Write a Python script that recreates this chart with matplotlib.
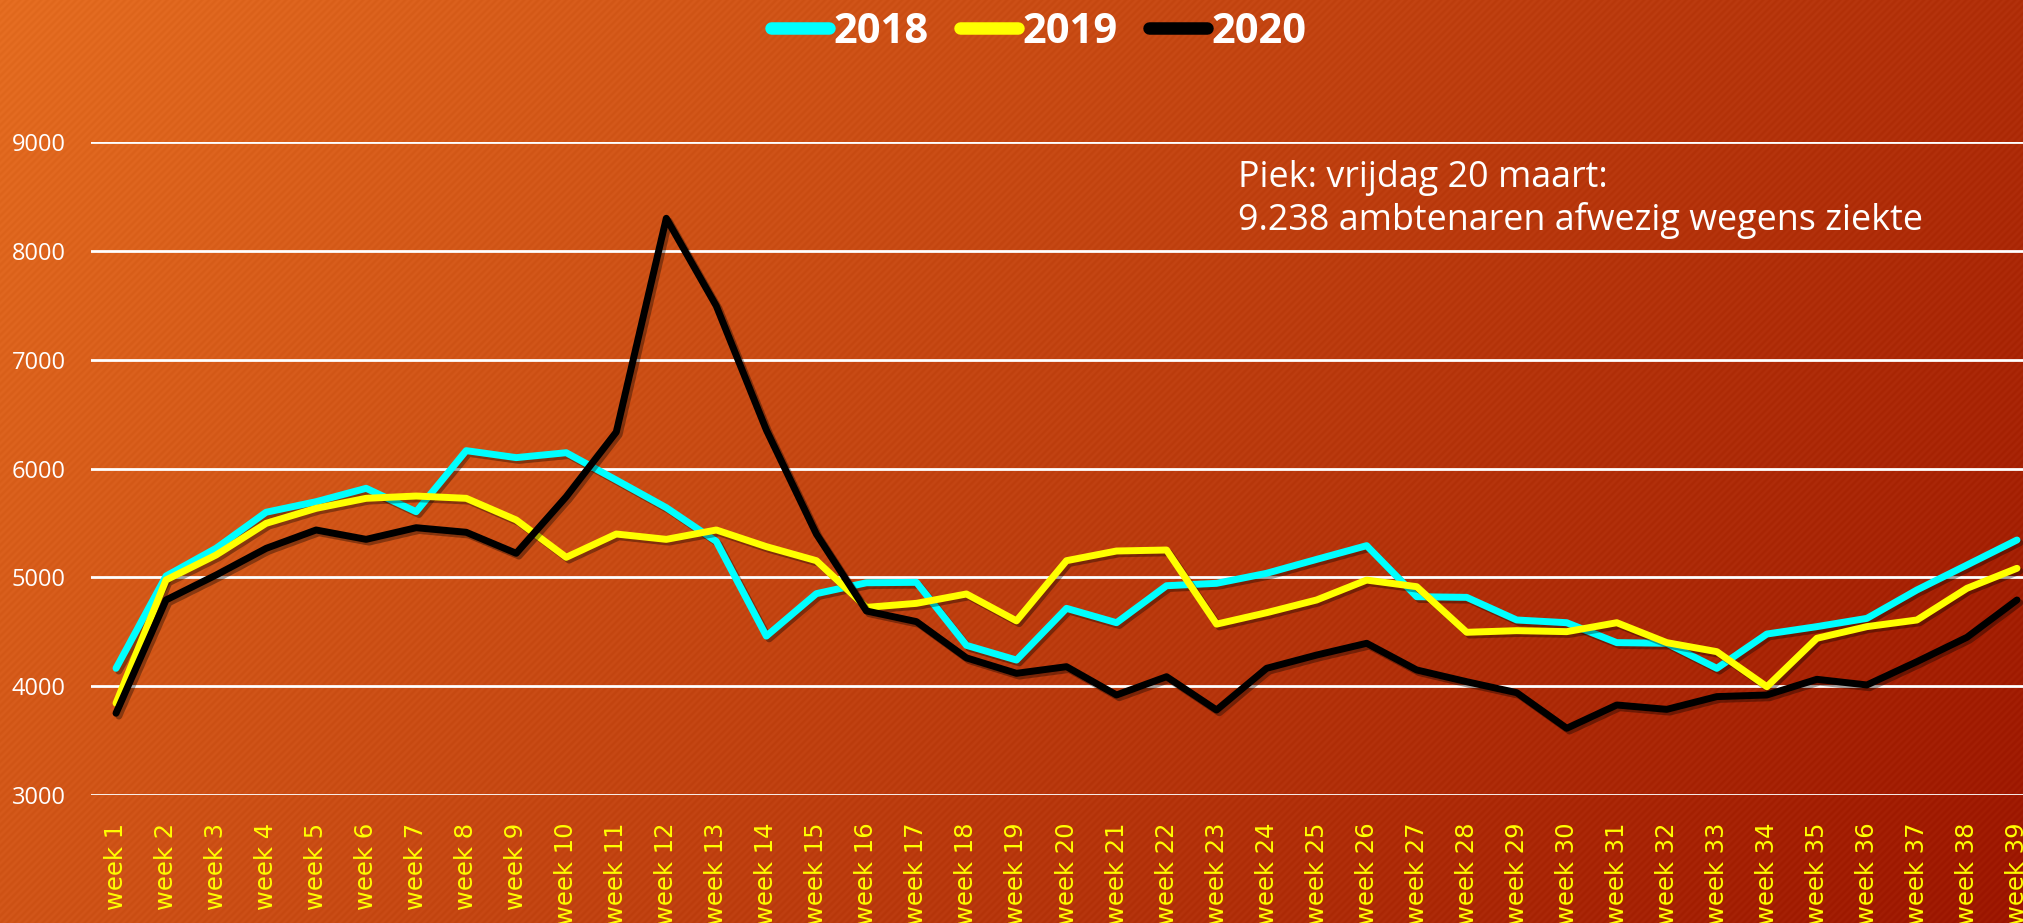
import numpy as np
import matplotlib
matplotlib.use('Agg')
from matplotlib import pyplot as plt
from matplotlib import patheffects as pe

weeks = ['week %d' % i for i in range(1, 40)]
y2018 = [4164, 5012, 5267, 5598, 5695, 5818, 5603, 6164, 6100, 6145,
         5894, 5640, 5330, 4460, 4850, 4950, 4954, 4375, 4240, 4715,
         4583, 4923, 4945, 5037, 5165, 5291, 4822, 4816, 4608, 4583,
         4400, 4394, 4164, 4479, 4547, 4623, 4884, 5113, 5343]
y2019 = [3843, 4976, 5205, 5496, 5634, 5726, 5747, 5726, 5527, 5184,
         5398, 5349, 5435, 5282, 5153, 4724, 4761, 4847, 4600, 5153,
         5242, 5251, 4570, 4675, 4792, 4975, 4914, 4495, 4510, 4501,
         4583, 4400, 4317, 3995, 4440, 4547, 4608, 4899, 5083]
y2020 = [3751, 4792, 5021, 5266, 5435, 5349, 5456, 5414, 5221, 5741,
         6335, 8299, 7493, 6354, 5398, 4691, 4593, 4260, 4118, 4179,
         3919, 4087, 3781, 4164, 4286, 4394, 4149, 4041, 3940, 3613,
         3827, 3787, 3904, 3919, 4063, 4011, 4225, 4449, 4792]
yticks = [3000, 4000, 5000, 6000, 7000, 8000, 9000]

W, H = 2024, 923
fig = plt.figure(figsize=(W / 100, H / 100), dpi=100)

# background gradient (orange -> dark red) with faint diagonal stripes
bg = fig.add_axes([0, 0, 1, 1])
yy, xx = np.mgrid[0:H, 0:W]
t = 0.72 * xx / W + 0.28 * yy / H
c0 = np.array([228, 108, 32]) / 255
c1 = np.array([156, 22, 0]) / 255
img = c0[None, None, :] * (1 - t[..., None]) + c1[None, None, :] * t[..., None]
stripes = 0.012 * np.sin((xx + yy) * 2 * np.pi / 7.0)
img = np.clip(img + stripes[..., None], 0, 1)
bg.imshow(img, aspect='auto', extent=[0, 1, 0, 1], origin='upper')
bg.axis('off')

x = np.arange(1, 40)
ax = fig.add_axes([91 / W, 128 / H, (2042 - 91) / W, (795 - 142) / H])
ax.patch.set_alpha(0)

shadow = [pe.SimpleLineShadow(offset=(2, -2), alpha=0.35, shadow_color='k'), pe.Normal()]
ax.plot(x, y2018, color='#00FFFF', lw=5, label='2018', solid_capstyle='round', path_effects=shadow, zorder=3)
ax.plot(x, y2019, color='#FFFF00', lw=5, label='2019', solid_capstyle='round', path_effects=shadow, zorder=4)
ax.plot(x, y2020, color='#000000', lw=5, label='2020', solid_capstyle='round', path_effects=shadow, zorder=5)

ax.set_xlim(0.5, 39.5)
ax.set_ylim(3000, 9000)
ax.set_yticks(yticks)
ax.set_yticklabels([str(v) for v in yticks], color='white', fontsize=17, family='Open Sans')
ax.set_xticks(x)
ax.set_xticklabels(weeks, rotation=90, color='#FFFF00', fontsize=17.5, family='DejaVu Sans')
ax.tick_params(length=0)
ax.tick_params(axis='y', pad=18)
ax.tick_params(axis='x', pad=20)
ax.grid(axis='y', color='white', lw=2)
ax.set_axisbelow(True)
for s in ax.spines.values():
    s.set_visible(False)

leg = fig.legend(loc='center', bbox_to_anchor=(0.513, 0.965), ncol=3, frameon=False,
                 handlelength=1.4, handletextpad=0.1, columnspacing=0.75,
                 prop={'family': 'Open Sans', 'weight': 'bold', 'size': 30})
for txt in leg.get_texts():
    txt.set_color('white')
for ln in leg.get_lines():
    ln.set_linewidth(9)
    ln.set_path_effects([])

fig.text(1238 / W, 1 - 160 / H, 'Piek: vrijdag 20 maart:\n9.238 ambtenaren afwezig wegens ziekte',
         color='white', fontsize=25.8, family='Open Sans', va='top', ha='left', linespacing=1.22)

plt.savefig('out.png', dpi=100)
plt.close()
